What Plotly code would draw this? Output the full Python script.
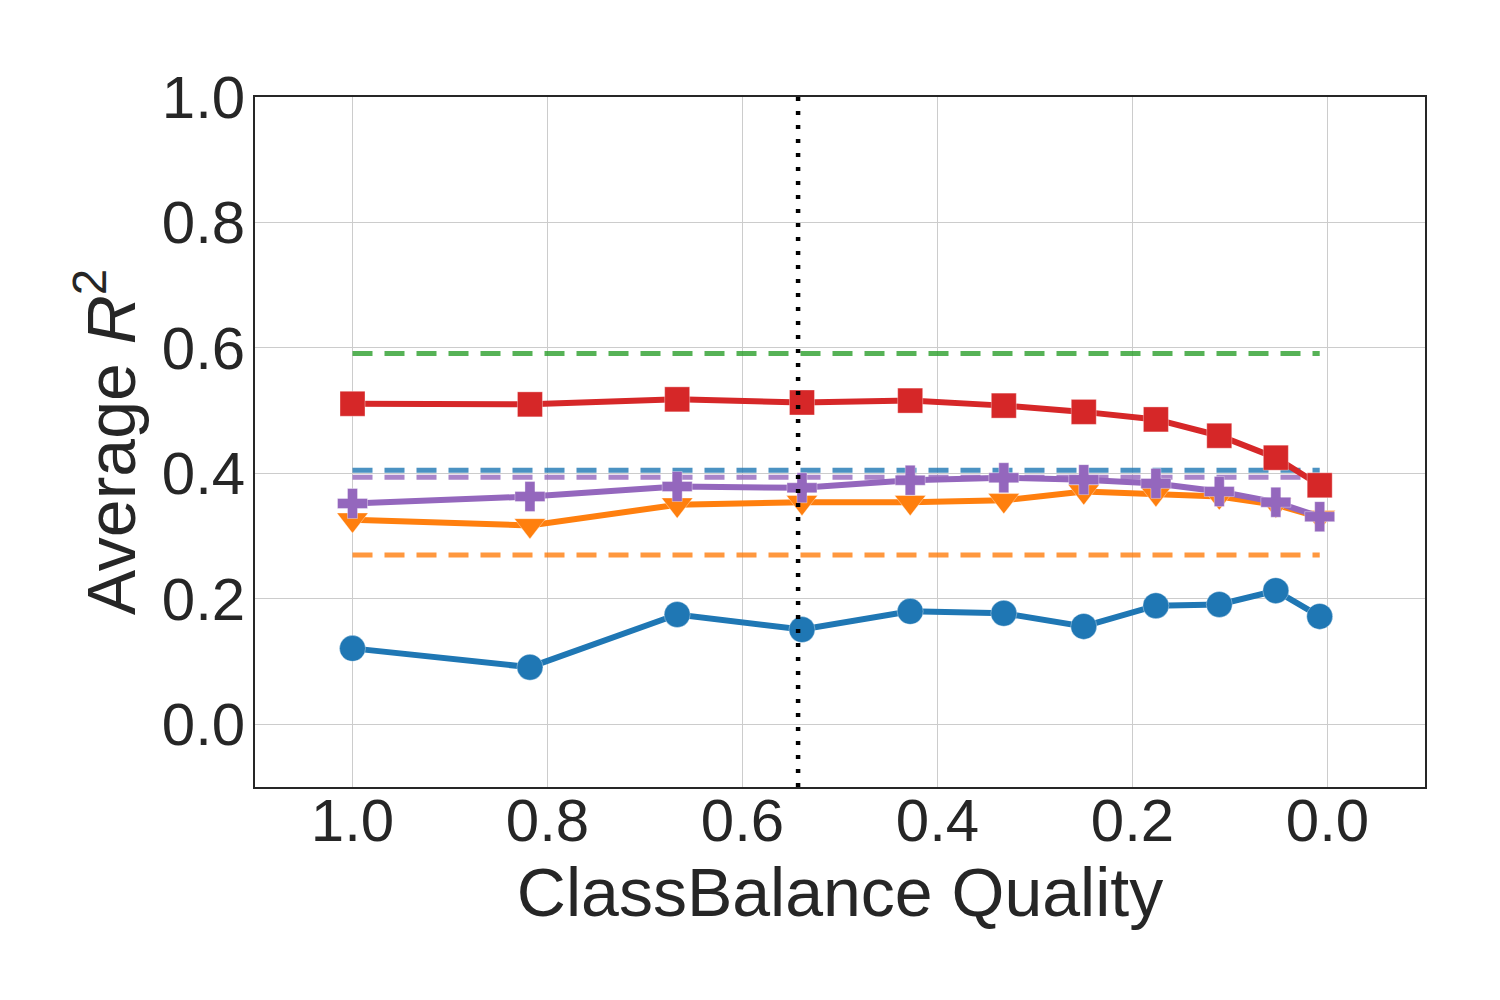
import plotly.graph_objects as go

x_quality = [1.0, 0.818, 0.667, 0.539, 0.428, 0.332, 0.25, 0.176, 0.111, 0.053, 0.008]

blue_vals = [0.121, 0.091, 0.175, 0.151, 0.180, 0.177, 0.156, 0.189, 0.191, 0.213, 0.172]
orange_vals = [0.326, 0.317, 0.350, 0.354, 0.354, 0.357, 0.371, 0.368, 0.363, 0.350, 0.330]
red_vals = [0.511, 0.510, 0.518, 0.513, 0.516, 0.508, 0.498, 0.486, 0.460, 0.425, 0.381]
purple_vals = [0.352, 0.363, 0.379, 0.377, 0.389, 0.393, 0.390, 0.384, 0.371, 0.354, 0.331]

baseline_blue = 0.405
baseline_orange = 0.270
baseline_green = 0.591
baseline_purple = 0.394

vline_x = 0.543

y_ticks = [0.0, 0.2, 0.4, 0.6, 0.8, 1.0]
x_ticks = [1.0, 0.8, 0.6, 0.4, 0.2, 0.0]

C_BLUE = "#1f77b4"
C_ORANGE = "#ff7f0e"
C_GREEN = "#2ca02c"
C_RED = "#d62728"
C_PURPLE = "#9467bd"

fig = go.Figure()

def hline(val, color):
    fig.add_trace(go.Scatter(
        x=[x_quality[0], x_quality[-1]], y=[val, val], mode="lines",
        line=dict(color=color, width=5, dash="20px,12px"), opacity=0.8,
        showlegend=False, hoverinfo="skip"))

hline(baseline_blue, C_BLUE)
hline(baseline_orange, C_ORANGE)
hline(baseline_green, C_GREEN)
hline(baseline_purple, C_PURPLE)

def series(vals, color, symbol, size):
    fig.add_trace(go.Scatter(
        x=x_quality, y=vals, mode="lines+markers",
        line=dict(color=color, width=6),
        marker=dict(color=color, symbol=symbol, size=size,
                    line=dict(width=0.6, color="rgba(255,255,255,0.6)")),
        showlegend=False))

series(blue_vals, C_BLUE, "circle", 26)
series(orange_vals, C_ORANGE, "triangle-down", 27)
series(red_vals, C_RED, "square", 25)
series(purple_vals, C_PURPLE, "cross", 25)

fig.add_trace(go.Scatter(
    x=[vline_x, vline_x], y=[-0.1, 1.0], mode="lines",
    line=dict(color="black", width=4.5, dash="4px,10px"),
    showlegend=False, hoverinfo="skip"))

font_family = "Liberation Sans, Arial, sans-serif"
axis_common = dict(
    showgrid=True, gridcolor="#cccccc", gridwidth=1,
    zeroline=False, showline=True, linecolor="#262626", linewidth=1.5,
    mirror=True, ticks="",
    tickfont=dict(size=60, color="#262626", family=font_family),
)

fig.update_layout(
    width=1500, height=1000,
    paper_bgcolor="white", plot_bgcolor="white",
    margin=dict(l=247, r=83, t=89, b=221),
    font=dict(family=font_family, color="#262626"),
    xaxis=dict(range=[1.1, -0.1], tickvals=x_ticks,
               ticktext=[f"{v:.1f}" for v in x_ticks],
               ticklabelstandoff=-20,
               title=dict(text="ClassBalance Quality",
                          font=dict(size=68, color="#262626", family=font_family),
                          standoff=0),
               **axis_common),
    yaxis=dict(range=[-0.1, 1.0], tickvals=y_ticks,
               ticktext=[f"{v:.1f}" for v in y_ticks],
               ticklabelstandoff=-4,
               title=dict(text="Average <i>R</i><sup>2</sup>",
                          font=dict(size=68, color="#262626", family=font_family),
                          standoff=4),
               **axis_common),
)

fig.write_html("out.html")
